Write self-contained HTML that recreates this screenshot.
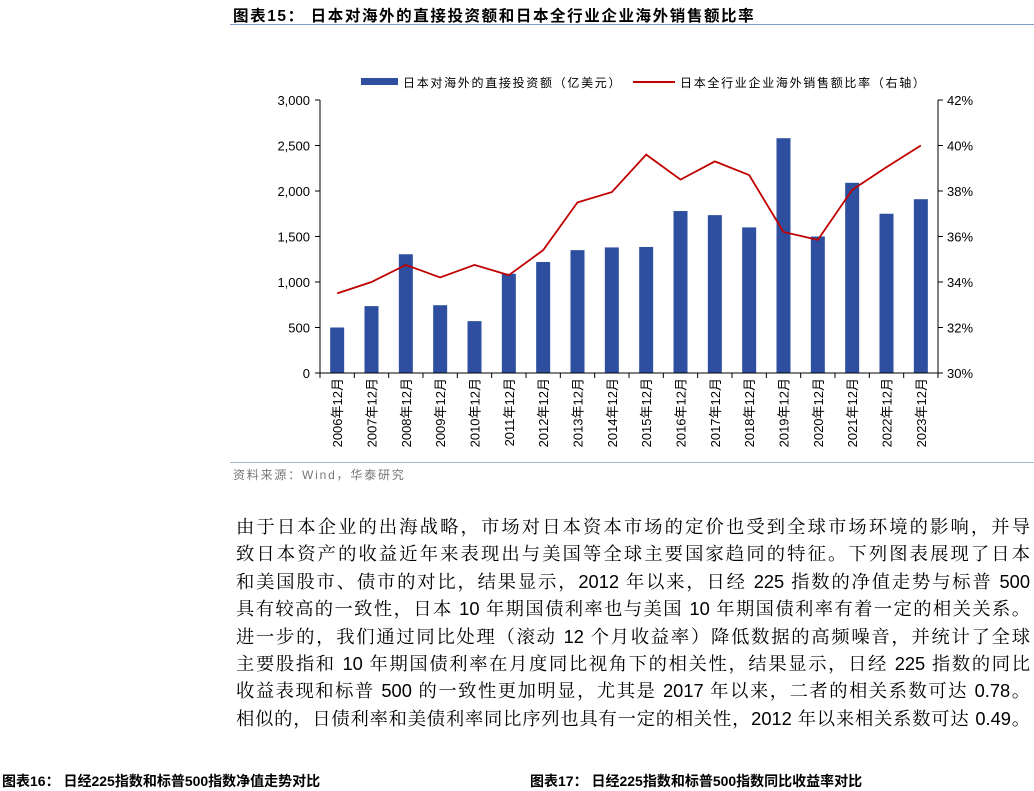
<!DOCTYPE html>
<html><head><meta charset="utf-8"><style>
body{margin:0;width:1034px;height:777px;background:#fff;overflow:hidden;position:relative;font-family:"Liberation Sans","Noto Sans CJK SC",sans-serif}
.t{position:absolute}
#body p{margin:0;font-size:18.3px;line-height:27.4px;text-align:justify;text-align-last:justify;color:#000;font-family:"Liberation Sans","Noto Serif CJK SC",serif;white-space:nowrap}
</style></head><body>
<div class="t" style="left:233px;top:4px;font-size:15.5px;letter-spacing:1.6px;font-weight:bold;color:#000">图表15：&nbsp;日本对海外的直接投资额和日本全行业企业海外销售额比率</div>
<div class="t" style="left:230px;top:24px;width:804px;height:1px;background:#7f9fc4"></div>
<svg class="t" style="left:0;top:0" width="1034" height="777" id="chart"></svg>
<div class="t" style="left:230px;top:462px;width:804px;height:1px;background:#9fb6d2"></div>
<div class="t" style="left:233px;top:466px;font-size:12px;letter-spacing:1.8px;color:#777">资料来源：Wind，华泰研究</div>
<div class="t" id="body" style="left:236px;top:513px;width:794px">
<p>由于日本企业的出海战略，市场对日本资本市场的定价也受到全球市场环境的影响，并导</p>
<p>致日本资产的收益近年来表现出与美国等全球主要国家趋同的特征。下列图表展现了日本</p>
<p>和美国股市、债市的对比，结果显示，2012 年以来，日经 225 指数的净值走势与标普 500</p>
<p>具有较高的一致性，日本 10 年期国债利率也与美国 10 年期国债利率有着一定的相关关系。</p>
<p>进一步的，我们通过同比处理（滚动 12 个月收益率）降低数据的高频噪音，并统计了全球</p>
<p>主要股指和 10 年期国债利率在月度同比视角下的相关性，结果显示，日经 225 指数的同比</p>
<p>收益表现和标普 500 的一致性更加明显，尤其是 2017 年以来，二者的相关系数可达 0.78。</p>
<p>相似的，日债利率和美债利率同比序列也具有一定的相关性，2012 年以来相关系数可达 0.49。</p>
</div>
<div class="t" style="left:2px;top:771px;font-size:14px;font-weight:bold">图表16：&nbsp;日经225指数和标普500指数净值走势对比</div>
<div class="t" style="left:530px;top:771px;font-size:14px;font-weight:bold">图表17：&nbsp;日经225指数和标普500指数同比收益率对比</div>
<script>
const categories=["2006年12月","2007年12月","2008年12月","2009年12月","2010年12月","2011年12月","2012年12月","2013年12月","2014年12月","2015年12月","2016年12月","2017年12月","2018年12月","2019年12月","2020年12月","2021年12月","2022年12月","2023年12月"];
const fdiValues=[500,735,1305,745,570,1090,1220,1350,1380,1385,1780,1735,1600,2580,1500,2090,1750,1910];
const ratioValues=[33.5,34.0,34.75,34.2,34.75,34.3,35.4,37.5,37.95,39.6,38.5,39.3,38.7,36.2,35.85,38.05,39.05,40.0];
const leftTicks=[0,500,1000,1500,2000,2500,3000];
const leftTickLabels=["0","500","1,000","1,500","2,000","2,500","3,000"];
const rightTicks=[30,32,34,36,38,40,42];
const rightTickLabels=["30%","32%","34%","36%","38%","40%","42%"];
const svg=document.getElementById('chart');const NS='http://www.w3.org/2000/svg';
const L=320,R=938,T=100,B=373;
const yL=v=>B-(v/3000)*(B-T);
const yR=v=>B-((v-30)/12)*(B-T);
const bw=(R-L)/categories.length;
const xC=i=>L+bw*(i+0.5);
function mk(tag,a,p){const e=document.createElementNS(NS,tag);for(const k in a)e.setAttribute(k,a[k]);(p||svg).appendChild(e);return e;}
fdiValues.forEach((v,i)=>{const r=mk('rect',{x:xC(i)-7,y:yL(v),width:14,height:B-yL(v),fill:'#2e4f9f'});

});
const pts=ratioValues.map((v,i)=>xC(i)+','+yR(v)).join(' ');
const pl=mk('polyline',{points:pts,fill:'none',stroke:'#c00000','stroke-width':1.8});


const ax={stroke:'#000','stroke-width':1};
mk('line',Object.assign({x1:L,y1:T,x2:L,y2:B},ax));
mk('line',Object.assign({x1:R,y1:T,x2:R,y2:B},ax));
mk('line',Object.assign({x1:L,y1:B,x2:R,y2:B},ax));
leftTicks.forEach((v,i)=>{mk('line',Object.assign({x1:L-5,y1:yL(v),x2:L,y2:yL(v)},ax));
const t=mk('text',{x:L-10,y:yL(v)+5,'text-anchor':'end','font-size':13});t.textContent=leftTickLabels[i];

});
rightTicks.forEach((v,i)=>{mk('line',Object.assign({x1:R,y1:yR(v),x2:R+5,y2:yR(v)},ax));
const t=mk('text',{x:R+9,y:yR(v)+5,'text-anchor':'start','font-size':13});t.textContent=rightTickLabels[i];

});
for(let i=0;i<=categories.length;i++){const x=L+bw*i;mk('line',Object.assign({x1:x,y1:B,x2:x,y2:B+5},ax));}
categories.forEach((c,i)=>{const x=xC(i)+5,y=B+5;const t=mk('text',{x:x,y:y,'text-anchor':'end','font-size':13,transform:`rotate(-90 ${x} ${y})`});t.textContent=c;

});
const lg=mk('g',{});
mk('rect',{x:361,y:78,width:37,height:7,fill:'#2e4f9f'},lg);
let t1=mk('text',{x:403,y:87,'font-size':12,'letter-spacing':1.7},lg);t1.textContent='日本对海外的直接投资额（亿美元）';
mk('line',{x1:633,y1:82,x2:675,y2:82,stroke:'#c00000','stroke-width':2},lg);
let t2=mk('text',{x:680,y:87,'font-size':12,'letter-spacing':1.7},lg);t2.textContent='日本全行业企业海外销售额比率（右轴）';
</script>
</body></html>
